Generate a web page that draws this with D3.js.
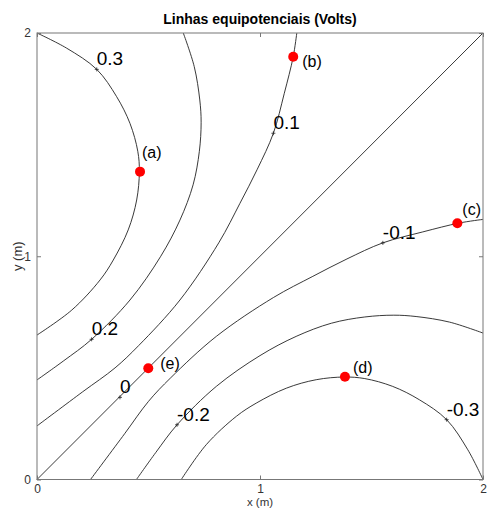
<!DOCTYPE html>
<html>
<head>
<meta charset="utf-8">
<script src="https://cdn.jsdelivr.net/npm/d3@7"></script>
<style>
  html, body { margin: 0; padding: 0; background: #fff; }
  svg { display: block; font-family: "Liberation Sans", Arial, sans-serif; }
</style>
</head>
<body>
<svg id="chart" width="487" height="509"></svg>
<script>
// ---- data ----
const levels = ["0.3", "0.2", "0.1", "0", "-0.1", "-0.2", "-0.3"];
const c03 = [[0,2],[0.133,1.932],[0.268,1.837],[0.357,1.715],[0.417,1.595],[0.452,1.47],[0.459,1.379],[0.447,1.252],[0.409,1.118],[0.342,0.983],[0.283,0.894],[0.156,0.759],[0,0.647]];
const c02 = [[0.656,2],[0.705,1.85],[0.730,1.70],[0.736,1.60],[0.728,1.47],[0.700,1.32],[0.641,1.162],[0.555,1.0],[0.417,0.804],[0.245,0.628],[0.12,0.532],[0,0.446]];
const c01 = [[1.165,2],[1.149,1.894],[1.109,1.73],[1.060,1.551],[0.988,1.39],[0.910,1.237],[0.815,1.06],[0.641,0.804],[0.456,0.60],[0.350,0.50],[0.205,0.393],[0,0.240]];
const c00 = [[0,0],[2,2]];
const cm01 = [[2,1.165],[1.894,1.149],[1.73,1.109],[1.551,1.060],[1.39,0.988],[1.237,0.910],[1.06,0.815],[0.804,0.641],[0.60,0.456],[0.50,0.350],[0.393,0.205],[0.240,0]];
const cm02 = [[2,0.656],[1.85,0.705],[1.70,0.730],[1.60,0.736],[1.47,0.728],[1.32,0.700],[1.162,0.641],[1.0,0.555],[0.804,0.417],[0.628,0.245],[0.532,0.12],[0.446,0]];
const cm03 = [[2,0],[1.932,0.133],[1.837,0.268],[1.715,0.357],[1.595,0.417],[1.47,0.452],[1.379,0.459],[1.252,0.447],[1.118,0.409],[0.983,0.342],[0.894,0.283],[0.759,0.156],[0.647,0]];
const contours = [c03, c02, c01, c00, cm01, cm02, cm03];

// contour label anchor points ("+" markers)
const labelX = [0.268, 0.245, 1.060, 0.372, 1.551, 0.628, 1.837];
const labelY = [1.837, 0.628, 1.551, 0.368, 1.060, 0.245, 0.268];

// named points
const pointNames = ["(a)", "(b)", "(c)", "(d)", "(e)"];
const pointX = [0.462, 1.149, 1.885, 1.381, 0.499];
const pointY = [1.379, 1.894, 1.148, 0.4605, 0.498];

const ticks = [0, 1, 2];
const title = "Linhas equipotenciais (Volts)";
const xLabel = "x (m)";
const yLabel = "y (m)";

// ---- layout ----
const L = 37, R = 483, T = 33, B = 479.5;
const pointLabelOffset = [[2,-14],[9,10],[5,-8],[8,-4],[12,1]];

const svg = d3.select("#chart");
const x = d3.scaleLinear().domain([0, 2]).range([L, R]);
const y = d3.scaleLinear().domain([0, 2]).range([B, T]);

// contours
const line = d3.line().x(d => x(d[0])).y(d => y(d[1])).curve(d3.curveCatmullRom.alpha(0.5));
svg.append("g").selectAll("path").data(contours).join("path")
  .attr("d", line)
  .attr("fill", "none")
  .attr("stroke", "#222")
  .attr("stroke-width", 0.9);

// axes frame and ticks
const axisColor = "#777";
svg.append("rect").attr("x", L).attr("y", T).attr("width", R - L).attr("height", B - T)
  .attr("fill", "none").attr("stroke", axisColor).attr("stroke-width", 1);

const gx = svg.append("g").attr("transform", `translate(0,${B})`)
  .call(d3.axisBottom(x).tickValues(ticks).tickFormat(d3.format("d")).tickSizeInner(-4).tickSizeOuter(0).tickPadding(4.5));
const gxt = svg.append("g").attr("transform", `translate(0,${T})`)
  .call(d3.axisTop(x).tickValues(ticks).tickFormat("").tickSizeInner(-4).tickSizeOuter(0));
const gy = svg.append("g").attr("transform", `translate(${L},0)`)
  .call(d3.axisLeft(y).tickValues(ticks).tickFormat(d3.format("d")).tickSizeInner(-4).tickSizeOuter(0).tickPadding(6));
const gyr = svg.append("g").attr("transform", `translate(${R},0)`)
  .call(d3.axisRight(y).tickValues(ticks).tickFormat("").tickSizeInner(-4).tickSizeOuter(0));
[gx, gxt, gy, gyr].forEach(g => {
  g.select(".domain").remove();
  g.selectAll("line").attr("stroke", axisColor);
  g.selectAll("text").attr("fill", "#333").style("font-size", "12px").style("font-family", "Liberation Sans, Arial, sans-serif");
});

// contour label markers and texts
const lab = svg.append("g");
levels.forEach((t, i) => {
  const px = x(labelX[i]), py = y(labelY[i]);
  lab.append("path").attr("d", `M${px-2},${py}H${px+2}M${px},${py-2}V${py+2}`)
    .attr("stroke", "#222").attr("stroke-width", 0.8);
  lab.append("text").attr("x", px).attr("y", py - 4)
    .attr("fill", "#000").style("font-size", "19px").text(t);
});

// named points
const pts = svg.append("g");
pointNames.forEach((n, i) => {
  const px = x(pointX[i]), py = y(pointY[i]);
  pts.append("circle").attr("cx", px).attr("cy", py).attr("r", 5).attr("fill", "#ff0000");
  pts.append("text").attr("x", px + pointLabelOffset[i][0]).attr("y", py + pointLabelOffset[i][1])
    .attr("fill", "#000").style("font-size", "16px").text(n);
});

// titles
svg.append("text").attr("x", (L + R) / 2).attr("y", 506).attr("text-anchor", "middle")
  .style("font-size", "11.5px").attr("fill", "#333").text(xLabel);
svg.append("text").attr("x", (L + R) / 2).attr("y", 24).attr("text-anchor", "middle")
  .style("font-size", "14px").style("font-weight", "bold").attr("fill", "#000").text(title);
svg.append("text").attr("transform", `translate(21.5,${(T + B) / 2}) rotate(-90)`).attr("text-anchor", "middle")
  .style("font-size", "13px").attr("fill", "#333").text(yLabel);
</script>
</body>
</html>
